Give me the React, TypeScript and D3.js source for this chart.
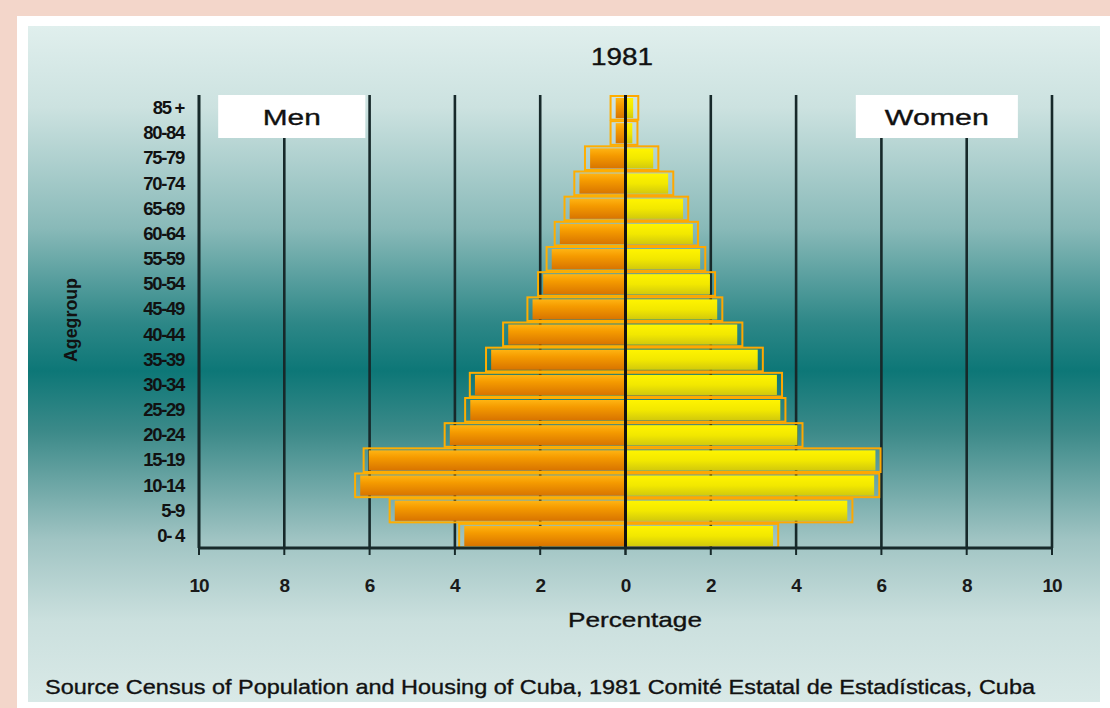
import React from 'react';
import * as d3 from 'd3';

// Age groups, bottom to top
const ageGroups = ['0- 4', '5-9', '10-14', '15-19', '20-24', '25-29', '30-34', '35-39', '40-44', '45-49', '50-54', '55-59', '60-64', '65-69', '70-74', '75-79', '80-84', '85 +'];
// Share of total population (%)
const menPct = [3.9, 5.53, 6.34, 6.14, 4.24, 3.76, 3.65, 3.27, 2.87, 2.3, 2.05, 1.85, 1.66, 1.43, 1.2, 0.95, 0.35, 0.35];
const womenPct = [3.58, 5.32, 5.95, 5.98, 4.15, 3.75, 3.67, 3.22, 2.74, 2.27, 2.1, 1.87, 1.7, 1.47, 1.12, 0.77, 0.28, 0.3];
const tickValues = [0, 2, 4, 6, 8, 10];

const W = 1110;
const H = 708;
const FONT = '"Liberation Sans", Arial, sans-serif';

export default function App() {
  const left = 199;
  const right = 1052;
  const top = 95;
  const bottom = 548;
  const center = (left + right) / 2;

  const xMen = d3.scaleLinear().domain([0, 10]).range([center, left]);
  const xWomen = d3.scaleLinear().domain([0, 10]).range([center, right]);
  const y = d3.scaleBand<string>().domain([...ageGroups].reverse()).range([top, bottom]);
  const bw = y.bandwidth();
  const inset = 0.12; // front face is slightly shorter than the frame
  const heavy = { stroke: '#111', strokeWidth: 0.35 };

  return (
    <svg width={W} height={H} style={{ position: 'absolute', left: 0, top: 0, display: 'block' }}>
      <defs>
        <linearGradient id="panel" x1="0" y1="0" x2="0" y2="1">
          <stop offset="0" stopColor="#e0efed" />
          <stop offset="0.12" stopColor="#cce2e0" />
          <stop offset="0.3" stopColor="#88b9b8" />
          <stop offset="0.44" stopColor="#2d8787" />
          <stop offset="0.51" stopColor="#0d7777" />
          <stop offset="0.6" stopColor="#3c8a89" />
          <stop offset="0.76" stopColor="#a0c4c3" />
          <stop offset="0.88" stopColor="#cbe0de" />
          <stop offset="1" stopColor="#d9e9e7" />
        </linearGradient>
        <linearGradient id="menFill" x1="0" y1="0" x2="0" y2="1">
          <stop offset="0" stopColor="#ffb412" />
          <stop offset="0.35" stopColor="#f59b00" />
          <stop offset="1" stopColor="#d87400" />
        </linearGradient>
        <linearGradient id="womenFill" x1="0" y1="0" x2="0" y2="1">
          <stop offset="0" stopColor="#fff400" />
          <stop offset="0.5" stopColor="#f2e800" />
          <stop offset="1" stopColor="#d2c90c" />
        </linearGradient>
      </defs>

      {/* frame */}
      <rect x={0} y={0} width={W} height={H} fill="#f3d6ca" />
      <rect x={17} y={16} width={W - 17} height={H - 16} fill="#ffffff" />
      <rect x={28} y={26} width={1100 - 28} height={702 - 26} fill="url(#panel)" />

      {/* title */}
      <text x={622} y={65} textAnchor="middle" fontFamily={FONT} fontSize={23} fill="#111" {...heavy} textLength={62} lengthAdjust="spacingAndGlyphs">1981</text>

      {/* vertical gridlines */}
      {tickValues.filter(t => t > 0).map(t => (
        <g key={'g' + t}>
          <line x1={xMen(t)} x2={xMen(t)} y1={top} y2={bottom} stroke="#17292a" strokeWidth={2.6} />
          <line x1={xWomen(t)} x2={xWomen(t)} y1={top} y2={bottom} stroke="#17292a" strokeWidth={2.6} />
        </g>
      ))}

      {/* side labels */}
      <rect x={xMen(9.55)} y={top} width={xMen(6.1) - xMen(9.55)} height={43} fill="#ffffff" />
      <text x={(xMen(9.55) + xMen(6.1)) / 2} y={125} textAnchor="middle" fontFamily={FONT} fontSize={22} fill="#111" {...heavy} textLength={58} lengthAdjust="spacingAndGlyphs">Men</text>
      <rect x={xWomen(5.4)} y={top} width={xWomen(9.2) - xWomen(5.4)} height={43} fill="#ffffff" />
      <text x={(xWomen(5.4) + xWomen(9.2)) / 2} y={125} textAnchor="middle" fontFamily={FONT} fontSize={22} fill="#111" {...heavy} textLength={104} lengthAdjust="spacingAndGlyphs">Women</text>

      {/* bars */}
      {ageGroups.map((a, i) => {
        const by = y(a)!;
        const m = menPct[i];
        const w = womenPct[i];
        return (
          <g key={a}>
            <rect x={xMen(m)} y={by + 1} width={center - xMen(m)} height={bw - 1.5} fill="none" stroke="#ffae00" strokeWidth={2} />
            <rect x={xMen(Math.max(m - inset, 0))} y={by + 3} width={center - xMen(Math.max(m - inset, 0))} height={bw - 5} fill="url(#menFill)" />
            <rect x={center} y={by + 1} width={xWomen(w) - center} height={bw - 1.5} fill="none" stroke="#ffa800" strokeWidth={2} />
            <rect x={center} y={by + 3} width={xWomen(Math.max(w - inset, 0)) - center} height={bw - 5} fill="url(#womenFill)" />
          </g>
        );
      })}

      {/* centre line and x axis */}
      <line x1={center} x2={center} y1={top} y2={bottom} stroke="#111" strokeWidth={3} />
      <line x1={left - 1} x2={right + 1} y1={bottom} y2={bottom} stroke="#17292a" strokeWidth={3} />
      <line x1={left} x2={left} y1={top} y2={bottom} stroke="#17292a" strokeWidth={2.6} />

      {/* ticks and tick labels */}
      {tickValues.map(t => (
        <g key={'t' + t}>
          <line x1={xMen(t)} x2={xMen(t)} y1={bottom} y2={bottom + 7} stroke="#17292a" strokeWidth={2} />
          <line x1={xWomen(t)} x2={xWomen(t)} y1={bottom} y2={bottom + 7} stroke="#17292a" strokeWidth={2} />
          <text x={xMen(t)} y={592} textAnchor="middle" fontFamily={FONT} fontSize={19} fontWeight="bold" fill="#1a1a1a" letterSpacing={-1}>{t}</text>
          {t > 0 && <text x={xWomen(t)} y={592} textAnchor="middle" fontFamily={FONT} fontSize={19} fontWeight="bold" fill="#1a1a1a" letterSpacing={-1}>{t}</text>}
        </g>
      ))}
      <text x={635} y={627} textAnchor="middle" fontFamily={FONT} fontSize={21} fill="#111" {...heavy} textLength={134} lengthAdjust="spacingAndGlyphs">Percentage</text>

      {/* age group labels */}
      {ageGroups.map(a => (
        <text key={'l' + a} x={184} y={y(a)! + bw / 2 + 6.5} textAnchor="end" fontFamily={FONT} fontSize={18.5} fontWeight="bold" fill="#111" letterSpacing={-1.3}>{a}</text>
      ))}
      <text transform="translate(77,320) rotate(-90)" textAnchor="middle" fontFamily={FONT} fontSize={18} fontWeight="bold" fill="#111" textLength={84} lengthAdjust="spacingAndGlyphs">Agegroup</text>

      {/* source */}
      <text x={45} y={694} fontFamily={FONT} fontSize={21} fill="#111" {...heavy} textLength={990} lengthAdjust="spacingAndGlyphs">Source Census of Population and Housing of Cuba, 1981 Comité Estatal de Estadísticas, Cuba</text>
    </svg>
  );
}
